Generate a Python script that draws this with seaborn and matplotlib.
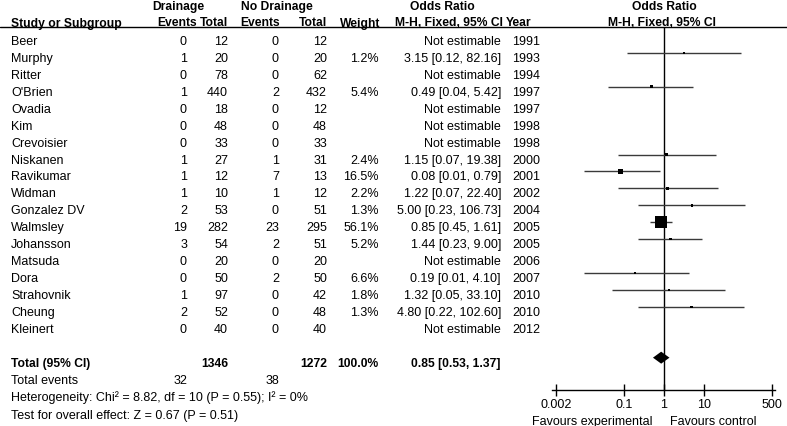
import numpy as np
import pandas as pd
import matplotlib
matplotlib.use("Agg")
import matplotlib.pyplot as plt
import seaborn as sns

# ============================================================
# Data
# ============================================================

studies = ["Beer", "Murphy", "Ritter", "O'Brien", "Ovadia", "Kim", "Crevoisier",
           "Niskanen", "Ravikumar", "Widman", "Gonzalez DV", "Walmsley",
           "Johansson", "Matsuda", "Dora", "Strahovnik", "Cheung", "Kleinert"]
drain_events = [0, 1, 0, 1, 0, 0, 0, 1, 1, 1, 2, 19, 3, 0, 0, 1, 2, 0]
drain_total = [12, 20, 78, 440, 18, 48, 33, 27, 12, 10, 53, 282, 54, 20, 50, 97, 52, 40]
nodrain_events = [0, 0, 0, 2, 0, 0, 0, 1, 7, 1, 0, 23, 2, 0, 2, 0, 0, 0]
nodrain_total = [12, 20, 62, 432, 12, 48, 33, 31, 13, 12, 51, 295, 51, 20, 50, 42, 48, 40]
nan = np.nan
weight = [nan, 1.2, nan, 5.4, nan, nan, nan, 2.4, 16.5, 2.2, 1.3, 56.1, 5.2, nan, 6.6, 1.8, 1.3, nan]
odds = [nan, 3.15, nan, 0.49, nan, nan, nan, 1.15, 0.08, 1.22, 5.00, 0.85, 1.44, nan, 0.19, 1.32, 4.80, nan]
ci_low = [nan, 0.12, nan, 0.04, nan, nan, nan, 0.07, 0.01, 0.07, 0.23, 0.45, 0.23, nan, 0.01, 0.05, 0.22, nan]
ci_high = [nan, 82.16, nan, 5.42, nan, nan, nan, 19.38, 0.79, 22.40, 106.73, 1.61, 9.00, nan, 4.10, 33.10, 102.60, nan]
years = [1991, 1993, 1994, 1997, 1997, 1998, 1998, 2000, 2001, 2002, 2004, 2005,
         2005, 2006, 2007, 2010, 2010, 2012]

total_drain = 1346
total_nodrain = 1272
total_events = [32, 38]
pooled = [0.85, 0.53, 1.37]

ticks = [0.002, 0.1, 1, 10, 500]
tick_labels = ["0.002", "0.1", "1", "10", "500"]

df = pd.DataFrame({
    "study": studies, "e1": drain_events, "t1": drain_total,
    "e2": nodrain_events, "t2": nodrain_total, "weight": weight,
    "or": odds, "lo": ci_low, "hi": ci_high, "year": years,
})
df["row"] = np.arange(len(df))

# ============================================================
# Layout (pixels)
# ============================================================

W, H = 787, 427
FS = 9
FS_BOLD = 8.7
ROW0 = 45          # baseline of first study row
STEP = 16.93
TOTAL_ROW = 19
MARK0 = 37         # marker centre of first row

sns.set_theme(style="white")
plt.rcParams["font.family"] = ["Liberation Sans", "DejaVu Sans"]

fig = plt.figure(figsize=(W / 100, H / 100), dpi=100)

tab = fig.add_axes([0, 0, 1, 1])
tab.set_xlim(0, W)
tab.set_ylim(H, 0)
tab.axis("off")


def put(x, y, s, ha="right", bold=False):
    tab.text(x, y, s, ha=ha, va="baseline", fontsize=FS_BOLD if bold else FS,
             fontweight="bold" if bold else "normal", color="black")


# header
put(178, 10, "Drainage", ha="center", bold=True)
put(277, 10, "No Drainage", ha="center", bold=True)
put(442, 10, "Odds Ratio", ha="center", bold=True)
put(664, 10, "Odds Ratio", ha="center", bold=True)
put(11, 26.5, "Study or Subgroup", ha="left", bold=True)
put(197, 26.5, "Events", bold=True)
put(228, 26.5, "Total", bold=True)
put(280, 26.5, "Events", bold=True)
put(327, 26.5, "Total", bold=True)
put(380, 26.5, "Weight", bold=True)
put(449, 26.5, "M-H, Fixed, 95% CI", ha="center", bold=True)
put(506, 26.5, "Year", ha="left", bold=True)
put(662, 26.5, "M-H, Fixed, 95% CI", ha="center", bold=True)
tab.axhline(28, color="black", lw=1)

# study rows
for _, r in df.iterrows():
    y = ROW0 + STEP * r["row"]
    put(11, y, r["study"], ha="left")
    put(187, y, f"{r['e1']}")
    put(228, y, f"{r['t1']}")
    put(279, y, f"{r['e2']}")
    put(327, y, f"{r['t2']}")
    if not np.isnan(r["weight"]):
        put(379, y, f"{r['weight']:.1f}%")
        put(501, y, f"{r['or']:.2f} [{r['lo']:.2f}, {r['hi']:.2f}]")
    else:
        put(501, y, "Not estimable")
    put(512, y, f"{r['year']}", ha="left")

# totals
yt = ROW0 + STEP * TOTAL_ROW
put(11, yt, "Total (95% CI)", ha="left", bold=True)
put(228, yt, f"{total_drain}", bold=True)
put(327, yt, f"{total_nodrain}", bold=True)
put(379, yt, f"{df['weight'].sum():.1f}%", bold=True)
put(500, yt, f"{pooled[0]:.2f} [{pooled[1]:.2f}, {pooled[2]:.2f}]", bold=True)
put(11, yt + 17.3, "Total events", ha="left")
put(187, yt + 17.3, f"{total_events[0]}")
put(279, yt + 17.3, f"{total_events[1]}")
put(11, yt + 34.8, "Heterogeneity: Chi\u00b2 = 8.82, df = 10 (P = 0.55); I\u00b2 = 0%", ha="left")
put(11, yt + 52.3, "Test for overall effect: Z = 0.67 (P = 0.51)", ha="left")

put(653, 425, "Favours experimental")
put(670, 425, "Favours control", ha="left")

# ============================================================
# Forest panel
# ============================================================

ax_left, ax_right, ax_top, ax_bottom = 552, 775, 28, 391
ax = fig.add_axes([ax_left / W, 1 - ax_bottom / H,
                   (ax_right - ax_left) / W, (ax_bottom - ax_top) / H])
ax.patch.set_alpha(0)
ax.set_xscale("log")
ax.set_xlim(10 ** -2.799, 10 ** 2.774)
ax.set_ylim((ax_bottom - MARK0) / STEP, (ax_top - MARK0) / STEP)

est = df.dropna(subset=["or"])
ax.hlines(est["row"], est["lo"], est["hi"], color="#3a3a3a", lw=1, zorder=2)

side_px = np.maximum(2.6, 12 * (est["weight"] / est["weight"].max()) ** 0.75)
sns.scatterplot(data=est, x="or", y="row", marker="s", color="black",
                s=(side_px * 0.72) ** 2, linewidth=0, legend=False, ax=ax, zorder=3)

half_h = 6 / STEP
ax.fill([pooled[1], pooled[0], pooled[2], pooled[0]],
        [TOTAL_ROW, TOTAL_ROW - half_h, TOTAL_ROW, TOTAL_ROW + half_h],
        color="black", lw=0, zorder=3)

ax.axvline(1, color="black", lw=1, zorder=1)

for side in ["top", "left", "right"]:
    ax.spines[side].set_visible(False)
ax.spines["bottom"].set_color("black")
ax.spines["bottom"].set_linewidth(1)
ax.set_xticks(ticks)
ax.set_xticklabels(tick_labels)
ax.xaxis.set_minor_locator(matplotlib.ticker.NullLocator())
ax.tick_params(axis="x", direction="inout", length=8, width=1, color="black",
               labelsize=FS, labelcolor="black", pad=2, bottom=True)
ax.set_yticks([])
ax.set_xlabel("")
ax.set_ylabel("")
ax.grid(False)

fig.savefig("out.png", dpi=100)
